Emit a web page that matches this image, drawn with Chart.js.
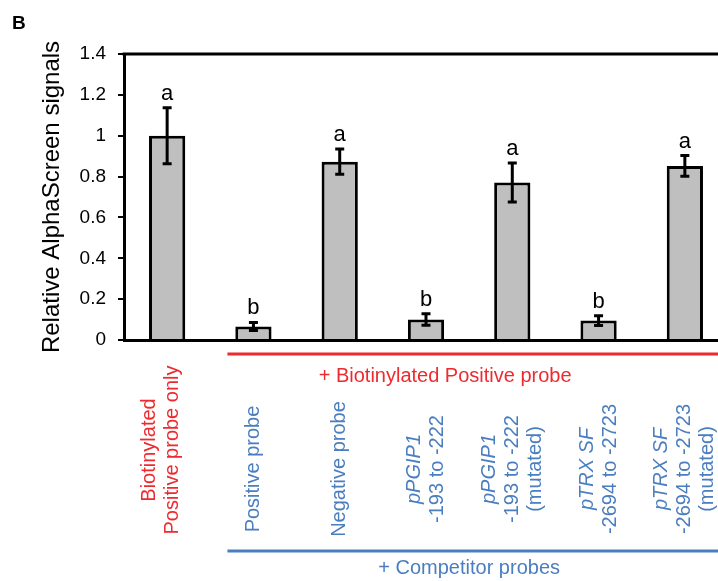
<!DOCTYPE html>
<html>
<head>
<meta charset="utf-8">
<script src="https://cdn.jsdelivr.net/npm/chart.js@4.4.1/dist/chart.umd.min.js"></script>
<style>
  html, body { margin: 0; padding: 0; background: #fff; overflow: hidden; }
  #wrap { width: 740px; height: 581px; position: relative; }
</style>
</head>
<body>
<div id="wrap"><canvas id="myChart" width="740" height="581"></canvas></div>
<script>
// data
var categories = ["Biotinylated Positive probe only", "Positive probe", "Negative probe",
  "pPGIP1 -193 to -222", "pPGIP1 -193 to -222 (mutated)",
  "pTRX SF -2694 to -2723", "pTRX SF -2694 to -2723 (mutated)"];
var labelLines = [
  ["Biotinylated", "Positive probe only"],
  ["Positive probe"],
  ["Negative probe"],
  ["pPGIP1", "-193 to -222"],
  ["pPGIP1", "-193 to -222", "(mutated)"],
  ["pTRX SF", "-2694 to -2723"],
  ["pTRX SF", "-2694 to -2723", "(mutated)"]
];
var italicFirst = [false, false, false, true, true, true, true];
var values = [1.0, 0.066, 0.873, 0.10, 0.771, 0.095, 0.852];
var errors = [0.137, 0.02, 0.062, 0.028, 0.095, 0.024, 0.051];
var letters = ["a", "b", "a", "b", "a", "b", "a"];
var yTicks = [0, 0.2, 0.4, 0.6, 0.8, 1, 1.2, 1.4];
var groupRed = "+ Biotinylated Positive probe";
var groupBlue = "+ Competitor probes";

var FONT = '"Liberation Sans", Arial, sans-serif';
var RED = "#ee2a2e";
var BLUE = "#4a7ebf";

// error bars, letters, frame top, category labels and brackets
var extras = {
  id: "extras",
  afterDatasetsDraw: function(chart) {
    var ctx = chart.ctx;
    var x = chart.scales.x, y = chart.scales.y;
    var area = chart.chartArea;
    ctx.save();

    // top frame line
    ctx.strokeStyle = "#000";
    ctx.lineWidth = 3;
    ctx.beginPath();
    ctx.moveTo(area.left - 1.5, area.top);
    ctx.lineTo(area.right, area.top);
    ctx.stroke();

    // error bars + letters
    for (var i = 0; i < values.length; i++) {
      var px = x.getPixelForValue(i);
      var hi = y.getPixelForValue(values[i] + errors[i]);
      var lo = y.getPixelForValue(values[i] - errors[i]);
      ctx.lineWidth = 3;
      ctx.beginPath();
      ctx.moveTo(px, hi); ctx.lineTo(px, lo);
      ctx.moveTo(px - 4.5, hi); ctx.lineTo(px + 4.5, hi);
      ctx.moveTo(px - 4.5, lo); ctx.lineTo(px + 4.5, lo);
      ctx.stroke();

      ctx.fillStyle = "#000";
      ctx.font = "22px " + FONT;
      ctx.textAlign = "center";
      ctx.textBaseline = "alphabetic";
      ctx.fillText(letters[i], px, hi - 8);
    }

    // rotated category labels
    var lh = 23;
    for (var j = 0; j < labelLines.length; j++) {
      var lines = labelLines[j];
      var cx = x.getPixelForValue(j) + (j === 0 ? -6 : 0);
      var cy = j === 0 ? 450 : 469;
      ctx.save();
      ctx.translate(cx, cy);
      ctx.rotate(-Math.PI / 2);
      ctx.fillStyle = j === 0 ? RED : BLUE;
      ctx.textAlign = "center";
      ctx.textBaseline = "middle";
      for (var k = 0; k < lines.length; k++) {
        var it = (k === 0 && italicFirst[j]) ? "italic " : "";
        ctx.font = it + "20px " + FONT;
        ctx.fillText(lines[k], 0, (k - (lines.length - 1) / 2) * lh);
      }
      ctx.restore();
    }

    // group brackets
    var startX = x.getPixelForValue(1) - 26;
    ctx.lineWidth = 3;
    ctx.strokeStyle = RED;
    ctx.beginPath();
    ctx.moveTo(startX, 354); ctx.lineTo(chart.width, 354);
    ctx.stroke();
    ctx.strokeStyle = BLUE;
    ctx.beginPath();
    ctx.moveTo(startX, 551); ctx.lineTo(chart.width, 551);
    ctx.stroke();

    ctx.font = "20px " + FONT;
    ctx.textAlign = "center";
    ctx.textBaseline = "middle";
    ctx.fillStyle = RED;
    ctx.fillText(groupRed, x.getPixelForValue(3.5) - 24, 376);
    ctx.fillStyle = BLUE;
    ctx.fillText(groupBlue, x.getPixelForValue(3.5), 568);

    // panel letter
    ctx.fillStyle = "#000";
    ctx.font = "bold 19px " + FONT;
    ctx.textAlign = "left";
    ctx.textBaseline = "alphabetic";
    ctx.fillText("B", 12, 29);

    ctx.restore();
  }
};

var ctx = document.getElementById("myChart").getContext("2d");
var chart = new Chart(ctx, {
  type: "bar",
  data: {
    labels: categories,
    datasets: [{
      data: values,
      backgroundColor: "#bfbfbf",
      borderColor: "#000",
      borderWidth: 3,
      barPercentage: 0.42,
      categoryPercentage: 1
    }]
  },
  options: {
    responsive: false,
    animation: false,
    layout: { padding: { top: 54, left: 0, right: 12, bottom: 0 } },
    plugins: { legend: { display: false }, tooltip: { enabled: false } },
    scales: {
      x: {
        grid: { display: false },
        border: { display: true, color: "#000", width: 3 },
        ticks: { display: false },
        afterFit: function(s) { s.height = 241; }
      },
      y: {
        min: 0,
        max: 1.4,
        afterBuildTicks: function(s) { s.ticks = yTicks.map(function(v) { return { value: v }; }); },
        grid: { drawOnChartArea: false, drawTicks: true, tickLength: 6, color: "#000", lineWidth: 2 },
        border: { display: true, color: "#000", width: 3 },
        ticks: {
          color: "#000",
          padding: 12,
          font: { family: FONT, size: 19 },
          callback: function(v) { return String(Math.round(v * 10) / 10); }
        },
        title: {
          display: true,
          text: "Relative AlphaScreen signals",
          color: "#000",
          font: { family: FONT, size: 24 },
          padding: { top: 38, bottom: 0 }
        },
        afterFit: function(s) { s.width = 124; }
      }
    }
  },
  plugins: [extras]
});
</script>
</body>
</html>
